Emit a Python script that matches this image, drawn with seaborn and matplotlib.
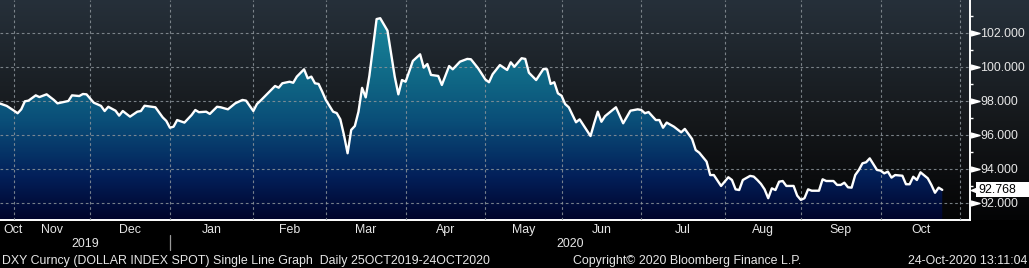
import numpy as np
import pandas as pd
import matplotlib
matplotlib.use("Agg")
import matplotlib.pyplot as plt
import matplotlib.transforms as mtrans
from matplotlib.colors import LinearSegmentedColormap
from matplotlib.patches import PathPatch, Rectangle
from matplotlib.lines import Line2D
import seaborn as sns

# ---------------- data ----------------
# trading day number counted from 25-Oct-2019 (weekdays only)
trading_day = [0, 2, 4, 5, 6, 7, 8, 10, 11, 13, 15, 16, 19, 20, 22, 23, 24, 26, 28, 29,
               30, 32, 33, 34, 36, 38, 39, 40, 42, 43, 45, 46, 47, 48, 49, 51, 53, 54, 55, 57,
               58, 60, 61, 63, 65, 67, 68, 70, 71, 72, 74, 76, 77, 78, 80, 81, 82, 84, 85, 86,
               87, 88, 89, 90, 92, 93, 94, 95, 96, 97, 98, 99, 100, 101, 102, 104, 105, 107, 108, 109,
               110, 111, 112, 114, 116, 117, 118, 119, 121, 122, 124, 125, 127, 129, 130, 132, 134, 135, 136, 138,
               140, 141, 142, 144, 145, 146, 148, 150, 151, 152, 153, 154, 155, 156, 157, 159, 160, 163, 164, 165,
               166, 167, 170, 172, 174, 176, 177, 178, 179, 181, 182, 183, 184, 186, 188, 189, 191, 192, 193, 195,
               196, 197, 199, 200, 201, 202, 203, 204, 205, 207, 208, 209, 210, 211, 212, 213, 214, 215, 216, 217,
               219, 220, 221, 222, 223, 224, 226, 227, 228, 230, 231, 232, 233, 234, 235, 236, 237, 238, 239, 240,
               242, 243, 244, 245, 246, 247, 249, 250, 251, 252, 253, 254, 256, 257, 258, 259, 260]
dxy = [97.85, 97.70, 97.42, 97.27, 97.50, 97.97, 98.01, 98.32, 98.22, 98.38, 98.05, 97.85, 97.99, 98.32, 98.28, 98.40, 98.38, 97.89, 97.70, 97.40,
       97.65, 97.42, 97.13, 97.40, 97.07, 97.36, 97.40, 97.71, 97.65, 97.62, 97.03, 96.82, 96.42, 96.48, 96.87, 96.72, 97.17, 97.46, 97.33, 97.36,
       97.23, 97.65, 97.62, 97.50, 97.85, 98.05, 98.01, 97.40, 97.81, 98.01, 98.44, 98.87, 98.77, 99.03, 99.12, 99.06, 99.42, 99.85, 99.32, 99.42,
       99.03, 98.99, 98.54, 98.05, 97.36, 97.28, 96.91, 95.99, 94.92, 96.29, 96.52, 97.36, 98.76, 98.20, 99.46, 102.80, 102.85, 102.12, 100.79, 99.42,
       98.38, 99.22, 99.12, 100.34, 100.73, 99.95, 100.16, 99.52, 99.46, 98.93, 100.04, 99.85, 100.30, 100.46, 100.44, 99.91, 99.25, 99.09, 99.56, 100.10,
       99.81, 100.26, 100.00, 100.50, 100.46, 99.65, 99.22, 99.87, 99.85, 98.99, 99.09, 98.44, 98.30, 97.81, 97.62, 96.74, 96.91, 95.93, 96.68, 97.36,
       96.77, 97.10, 97.62, 96.68, 97.42, 97.50, 97.46, 97.27, 97.34, 96.87, 96.87, 96.42, 96.72, 96.48, 96.15, 96.35, 95.76, 95.11, 94.95, 94.43,
       93.64, 93.64, 93.00, 93.25, 93.51, 93.35, 92.80, 92.76, 93.35, 93.59, 93.55, 93.35, 93.12, 92.80, 92.28, 92.86, 92.76, 93.25, 93.29, 93.00,
       93.00, 92.43, 92.18, 92.28, 92.80, 92.72, 92.72, 93.39, 93.29, 93.29, 93.06, 93.06, 93.19, 92.92, 92.90, 93.64, 93.94, 94.33, 94.39, 94.62,
       93.94, 93.90, 93.74, 93.84, 93.49, 93.64, 93.60, 93.10, 93.10, 93.54, 93.35, 93.80, 93.45, 93.06, 92.60, 92.90, 92.768]
last_value = 92.768
month_labels = ["Oct", "Nov", "Dec", "Jan", "Feb", "Mar", "Apr", "May", "Jun", "Jul", "Aug", "Sep", "Oct"]
year_labels = ["2019", "2020"]
y_major = [92, 94, 96, 98, 100, 102]
y_minor = [93, 95, 97, 99, 101, 103]
footer_left = "DXY Curncy (DOLLAR INDEX SPOT) Single Line Graph  Daily 25OCT2019-24OCT2020"
footer_mid = "Copyright\u00a9 2020 Bloomberg Finance L.P."
footer_right = "24-Oct-2020 13:11:04"

# ---------------- style ----------------
sns.set_theme(style="dark")
plt.rcParams["font.family"] = ["Liberation Sans", "DejaVu Sans"]
FS = 8.9
TXT = "#e6e6e6"
GRID = "#8c949a"

W, H = 1029, 268
fig = plt.figure(figsize=(W / 100, H / 100), dpi=100, facecolor="black")

def fx(px):
    return px / W

def fy(py):
    return 1 - py / H

# background gradient behind plot (full width, top 220 px)
bg = fig.add_axes([0, fy(220), 1, 220 / H])
bg.axis("off")
bgcmap = LinearSegmentedColormap.from_list(
    "bg", [(0, "#040405"), (0.45, "#15181b"), (1, "#26303a")])
bg.imshow(np.linspace(0, 1, 256)[:, None], aspect="auto", cmap=bgcmap,
          origin="lower", extent=[0, 1, 0, 1])
bg.set_xlim(0, 1)
bg.set_ylim(0, 1)

ax = fig.add_axes([0, fy(220), 970 / W, 220 / H])
ax.patch.set_alpha(0)

XMIN, XMAX = 0.14, 267.65
YMIN, YMAX = 91.0, 103.92

df = pd.DataFrame({"day": trading_day, "dxy": dxy})

# gradient fill under the line
poly = ax.fill_between(df["day"], df["dxy"], YMIN, facecolor="none", edgecolor="none")
clip = PathPatch(poly.get_paths()[0], transform=ax.transData, fc="none", ec="none")
ax.add_patch(clip)
fillcmap = LinearSegmentedColormap.from_list(
    "fill", [(0, "#00032a"), (0.2, "#03205a"), (0.45, "#0a4e78"),
             (0.62, "#0f6584"), (1, "#1c8fa2")])
im = ax.imshow(np.linspace(0, 1, 256)[:, None], aspect="auto", cmap=fillcmap,
               origin="lower", extent=[XMIN, XMAX, YMIN, YMAX], zorder=1)
im.set_clip_path(clip)

# line
sns.lineplot(data=df, x="day", y="dxy", ax=ax, color="white", lw=1.7, zorder=5)

# month boundaries (weekday positions)
bdays = pd.bdate_range("2019-10-25", "2020-11-30")
ms = pd.Series(np.arange(len(bdays)), index=bdays)
starts = ms.groupby([bdays.year, bdays.month]).first().values
grid_x = [s - 1 for s in starts[1:]]  # Nov-2019 ... Nov-2020

ax.set_xlim(XMIN, XMAX)
ax.set_ylim(YMIN, YMAX)
ax.set_xticks(grid_x)
ax.set_xticklabels([])
ax.set_xlabel("")
ax.set_ylabel("")
ax.tick_params(axis="x", which="major", length=3, width=1, color="white", direction="out")

ax.yaxis.tick_right()
ax.set_yticks(y_major)
ax.set_yticks(y_minor, minor=True)
ax.set_yticklabels([f"{v:.3f}" for v in y_major])
ax.tick_params(axis="y", which="major", length=0, pad=7.3, labelsize=FS, labelcolor=TXT)
ax.tick_params(axis="y", which="minor", length=2.2, width=1, color="white", direction="out")

ax.grid(True, which="major", color=GRID, lw=0.8, linestyle=(0, (2.4, 2.4)), alpha=0.85, zorder=3)
ax.set_axisbelow(False)
for gl in ax.get_xgridlines() + ax.get_ygridlines():
    gl.set_zorder(3)

for s in ["top", "left"]:
    ax.spines[s].set_visible(False)
for s in ["right", "bottom"]:
    ax.spines[s].set_visible(True)
    ax.spines[s].set_color("white")
    ax.spines[s].set_linewidth(1.4)

# triangle markers for major y ticks
tri = mtrans.blended_transform_factory(ax.transAxes, ax.transData)
ax.plot([1 + 5 / 970] * len(y_major), y_major, linestyle="none",
        marker=[(-1, -0.55), (1, 0), (-1, 0.55)], ms=6.5, color="white",
        transform=tri, clip_on=False, zorder=6)

# last value tag: white band to the right edge + left notch + value text
tag = mtrans.blended_transform_factory(fig.transFigure, ax.transData)
tag_h = 15 / 17.03
ax.add_patch(Rectangle((fx(976), last_value - tag_h / 2), fx(1029) - fx(976), tag_h,
                       transform=tag, fc="white", ec="none", clip_on=False, zorder=6))
ax.plot([1 + 4.5 / 970], [last_value], linestyle="none",
        marker=[(1, -0.8), (-1, 0), (1, 0.8)], ms=6, color="white",
        transform=tri, clip_on=False, zorder=6)
ax.text(1 + 8 / 970, last_value, f"{last_value:.3f}", transform=tri,
        ha="left", va="center", fontsize=FS, color="black", zorder=7)

# month labels
mx = mtrans.blended_transform_factory(ax.transData, fig.transFigure)
centers = [3.72] + [(grid_x[k] + grid_x[k + 1]) / 2 for k in range(len(grid_x) - 1)]
for c, lab in zip(centers, month_labels):
    ax.text(c, fy(232.7), lab, transform=mx, ha="center", va="baseline",
            fontsize=FS, color=TXT, clip_on=False)

# year labels and separator
jan = grid_x[2]
ax.text((XMIN + jan) / 2, fy(246.7), year_labels[0], transform=mx, ha="center",
        va="baseline", fontsize=FS, color=TXT, clip_on=False)
ax.text((jan + XMAX) / 2, fy(246.7), year_labels[1], transform=mx, ha="center",
        va="baseline", fontsize=FS, color=TXT, clip_on=False)
ax.add_line(Line2D([jan, jan], [fy(235), fy(250)], transform=mx, color="#9a9a9a",
                   lw=0.9, clip_on=False))

# footer
fig.text(fx(2.5), fy(264), footer_left, ha="left", va="baseline", fontsize=FS, color=TXT)
fig.text(fx(573), fy(264), footer_mid, ha="left", va="baseline", fontsize=FS, color=TXT)
fig.text(fx(1027), fy(264), footer_right, ha="right", va="baseline", fontsize=FS, color=TXT)

fig.savefig("out.png", dpi=100, facecolor="black")
